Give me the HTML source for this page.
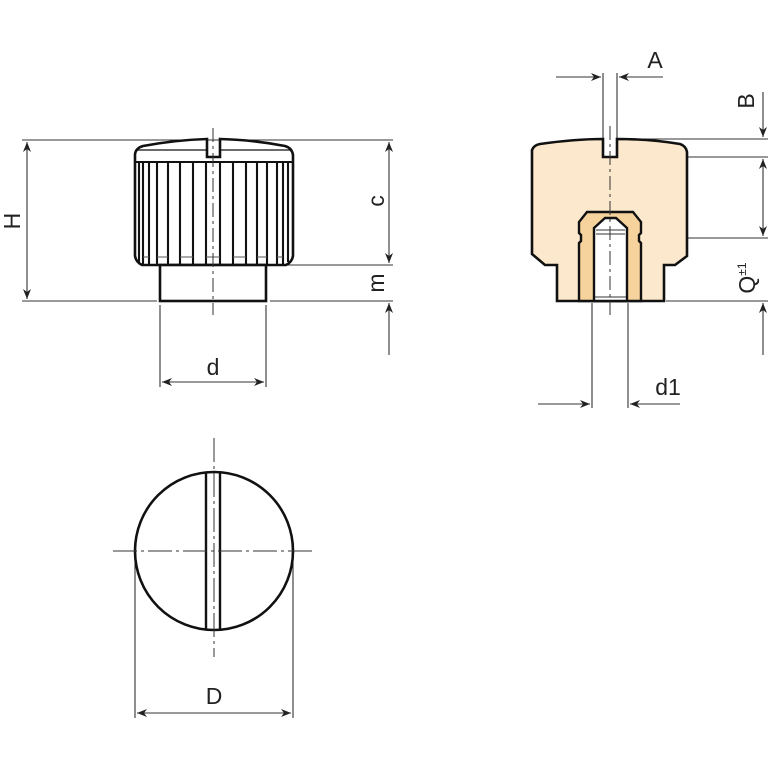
<!DOCTYPE html>
<html><head><style>html,body{margin:0;padding:0;background:#fff}svg{display:block}</style></head>
<body>
<svg width="768" height="768" viewBox="0 0 768 768" xmlns="http://www.w3.org/2000/svg" font-family="Liberation Sans, sans-serif">
<defs>
<marker id="a" viewBox="0 0 10 10" refX="10" refY="5" markerWidth="10" markerHeight="10" orient="auto-start-reverse" markerUnits="userSpaceOnUse">
<path d="M0,1 L10,5 L0,9 L3,5 Z" fill="#222"/></marker>
</defs>
<g stroke="#333" stroke-width="1.1" fill="none">
<line x1="22" y1="140" x2="393" y2="140"/>
<line x1="285" y1="265" x2="393" y2="265"/>
<line x1="22" y1="301" x2="157" y2="301"/>
<line x1="270" y1="301" x2="393" y2="301"/>
<line x1="27" y1="142" x2="27" y2="299" marker-start="url(#a)" marker-end="url(#a)"/>
<line x1="389" y1="142" x2="389" y2="263" marker-start="url(#a)" marker-end="url(#a)"/>
<line x1="389" y1="355" x2="389" y2="303" marker-end="url(#a)"/>
<line x1="160" y1="305" x2="160" y2="387"/>
<line x1="266" y1="305" x2="266" y2="387"/>
<line x1="162" y1="382" x2="264" y2="382" marker-start="url(#a)" marker-end="url(#a)"/>
<line x1="603" y1="73" x2="603" y2="139"/>
<line x1="617" y1="73" x2="617" y2="139"/>
<line x1="556" y1="77" x2="601" y2="77" marker-end="url(#a)"/>
<line x1="663" y1="77" x2="619" y2="77" marker-end="url(#a)"/>
<line x1="617" y1="139" x2="768" y2="139"/>
<line x1="620" y1="157" x2="768" y2="157"/>
<line x1="640" y1="238" x2="768" y2="238"/>
<line x1="666" y1="301" x2="768" y2="301"/>
<line x1="763" y1="92" x2="763" y2="137" marker-end="url(#a)"/>
<line x1="763" y1="159" x2="763" y2="236" marker-start="url(#a)" marker-end="url(#a)"/>
<line x1="763" y1="355" x2="763" y2="303" marker-end="url(#a)"/>
<line x1="592" y1="303" x2="592" y2="408"/>
<line x1="628" y1="303" x2="628" y2="408"/>
<line x1="538" y1="404" x2="590" y2="404" marker-end="url(#a)"/>
<line x1="680" y1="404" x2="630" y2="404" marker-end="url(#a)"/>
<line x1="135" y1="557" x2="135" y2="718"/>
<line x1="293" y1="557" x2="293" y2="718"/>
<line x1="137" y1="713" x2="291" y2="713" marker-start="url(#a)" marker-end="url(#a)"/>
</g>
<g stroke="#111" stroke-width="2.6" fill="#fff">
<path d="M135,160 L135,154 Q136,148 143,146 Q175,140 207,139 L207,157 L220,157 L220,139 Q255,140 285,146 Q292,148 293,155 L293,256 Q292,262 286,265 L142,265 Q136,262 135,256 Z"/>
<line x1="136" y1="150" x2="207" y2="150" stroke-width="1.2"/>
<line x1="220" y1="150" x2="292" y2="150" stroke-width="1.2"/>
<line x1="135" y1="162" x2="293" y2="162" stroke-width="2"/>
<rect x="160" y="265" width="106" height="36"/>
</g>
<g stroke="#111" stroke-width="2.1">
<line x1="139" y1="162" x2="139" y2="262"/><line x1="143" y1="162" x2="143" y2="264"/>
<line x1="149" y1="162" x2="149" y2="265"/><line x1="157" y1="162" x2="157" y2="265"/>
<line x1="168" y1="162" x2="168" y2="265"/><line x1="180" y1="162" x2="180" y2="265"/>
<line x1="193" y1="162" x2="193" y2="265"/><line x1="206" y1="162" x2="206" y2="265"/>
<line x1="220" y1="162" x2="220" y2="265"/><line x1="233" y1="162" x2="233" y2="265"/>
<line x1="246" y1="162" x2="246" y2="265"/><line x1="257" y1="162" x2="257" y2="265"/>
<line x1="267" y1="162" x2="267" y2="265"/><line x1="277" y1="162" x2="277" y2="265"/>
<line x1="283" y1="162" x2="283" y2="264"/><line x1="288" y1="162" x2="288" y2="262"/>
</g>
<g stroke="#555" stroke-width="1">
<line x1="143" y1="257" x2="149" y2="257"/><line x1="157" y1="257" x2="168" y2="257"/>
<line x1="180" y1="257" x2="193" y2="257"/><line x1="206" y1="257" x2="220" y2="257"/>
<line x1="233" y1="257" x2="246" y2="257"/><line x1="257" y1="257" x2="267" y2="257"/>
<line x1="277" y1="257" x2="283" y2="257"/>
</g>
<line x1="213" y1="128" x2="213" y2="315" stroke="#333" stroke-width="1" stroke-dasharray="14,4,3,4"/>
<path d="M532,150 Q534,145 540,144 Q575,139 603,139 L603,157 L617,157 L617,139 Q650,139 680,144 Q686,146 687,152 L687,256 L675,265 L664,265 L664,301 L557,301 L557,265 L545,265 L532,254 Z" fill="#fce9cd" stroke="#111" stroke-width="2.6"/>
<path d="M579,301 L579,243 L581,241 L581,235 L579,233 L579,222 L587,212 L633,212 L641,222 L641,233 L639,235 L639,241 L641,243 L641,301 Z" fill="#f6d39c" stroke="#111" stroke-width="2.4"/>
<path d="M594,301 L594,228 L605,218 L616,218 L627,228 L627,301 Z" fill="#fff" stroke="#111" stroke-width="2.4"/>
<line x1="596" y1="230" x2="625" y2="230" stroke="#333" stroke-width="1"/>
<line x1="596" y1="234" x2="625" y2="234" stroke="#333" stroke-width="1"/>
<line x1="595" y1="297" x2="626" y2="297" stroke="#333" stroke-width="1"/>
<line x1="610" y1="126" x2="610" y2="315" stroke="#333" stroke-width="1" stroke-dasharray="14,4,3,4"/>
<circle cx="214" cy="551" r="79" fill="#fff" stroke="#111" stroke-width="2.6"/>
<g stroke="#111" stroke-width="2.4"><line x1="206" y1="473" x2="206" y2="629"/><line x1="220" y1="473" x2="220" y2="629"/></g>
<line x1="113" y1="551" x2="315" y2="551" stroke="#333" stroke-width="1" stroke-dasharray="24,4,3,4"/>
<line x1="214" y1="438" x2="214" y2="657" stroke="#333" stroke-width="1" stroke-dasharray="24,4,3,4"/>
<g fill="#222" font-size="23">
<text x="213" y="375" text-anchor="middle">d</text>
<text x="214" y="704" text-anchor="middle">D</text>
<text x="655" y="68" text-anchor="middle">A</text>
<text x="668" y="395" text-anchor="middle">d1</text>
<text transform="translate(20,221) rotate(-90)" text-anchor="middle">H</text>
<text transform="translate(384,201) rotate(-90)" text-anchor="middle">c</text>
<text transform="translate(384,283) rotate(-90)" text-anchor="middle">m</text>
<text transform="translate(754,101) rotate(-90)" text-anchor="middle">B</text>
<text transform="translate(755,278) rotate(-90)" text-anchor="middle">Q<tspan font-size="12" dy="-9">±1</tspan></text>
</g>
</svg>
</body></html>
